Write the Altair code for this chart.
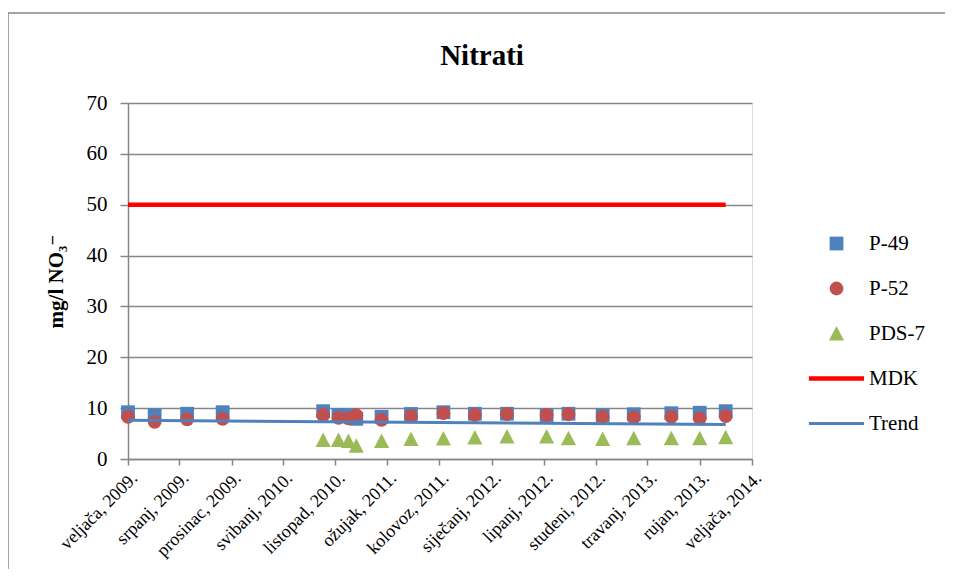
import altair as alt
import pandas as pd

# ---- data ----
dates = ["2009-02-01", "2009-04-20", "2009-07-24", "2009-11-05",
         "2010-08-26", "2010-10-10", "2010-11-08", "2010-12-01",
         "2011-02-13", "2011-05-10", "2011-08-13", "2011-11-13",
         "2012-02-15", "2012-06-10", "2012-08-13", "2012-11-21",
         "2013-02-20", "2013-06-10", "2013-09-01", "2013-11-16"]
p49 = [9.2, 8.65, 8.9, 9.2, 9.4, 8.65, 8.6, 7.9, 8.3, 8.85,
       9.2, 8.9, 8.9, 8.65, 8.9, 8.6, 8.8, 9.0, 9.1, 9.4]
p52 = [8.3, 7.3, 7.8, 7.9, 8.65, 8.1, 8.0, 8.6, 7.7, 8.45,
       9.0, 8.65, 8.85, 8.65, 8.8, 8.3, 8.2, 8.3, 8.0, 8.45]
pds7_dates = dates[4:]
pds7 = [3.7, 3.7, 3.5, 2.6, 3.5, 3.9, 4.0, 4.2, 4.4, 4.4,
        4.05, 3.9, 4.05, 4.05, 4.05, 4.25]
mdk_dates = ["2009-02-01", "2013-11-16"]
mdk_values = [50, 50]
trend_dates = ["2009-02-01", "2013-11-16"]
trend_values = [7.6, 6.8]

tick_months = [(2009, 2), (2009, 7), (2009, 12), (2010, 5), (2010, 10),
               (2011, 3), (2011, 8), (2012, 1), (2012, 6), (2012, 11),
               (2013, 4), (2013, 9), (2014, 2)]
months_hr = ["siječanj", "veljača", "ožujak", "travanj", "svibanj", "lipanj",
             "srpanj", "kolovoz", "rujan", "listopad", "studeni", "prosinac"]

title_text = "Nitrati"
series_all = ["P-49", "P-52", "PDS-7", "MDK", "Trend"]
colors_all = ["#4F81BD", "#C0504D", "#9BBB59", "#FF0000", "#4F81BD"]
shapes_all = ["square", "circle", "M0,-1.1L1.1,1L-1.1,1Z",
              "M-4,-0.33H4V0.33H-4Z", "M-4,-0.22H4V0.22H-4Z"]
line_series = ["MDK", "Trend"]
line_widths = [4.5, 3]

# ---- tables ----
rows = []
for d, v in zip(dates, p49):
    rows.append({"date": d, "value": v, "series": "P-49"})
for d, v in zip(dates, p52):
    rows.append({"date": d, "value": v, "series": "P-52"})
for d, v in zip(pds7_dates, pds7):
    rows.append({"date": d, "value": v, "series": "PDS-7"})
points = pd.DataFrame(rows)

lrows = []
for d, v in zip(mdk_dates, mdk_values):
    lrows.append({"date": d, "value": v, "series": "MDK"})
for d, v in zip(trend_dates, trend_values):
    lrows.append({"date": d, "value": v, "series": "Trend"})
lines = pd.DataFrame(lrows)

FONT = "Liberation Serif, Times New Roman, DejaVu Serif, serif"
GRAY = "#868686"
W, H = 624, 356
PAD_R = 193

month_arr = "[" + ",".join("'" + m + "'" for m in months_hr) + "]"
label_expr = month_arr + "[utcmonth(datum.value)] + ', ' + utcyear(datum.value) + '.'"

xscale = alt.Scale(type="utc", domain=[
    alt.DateTime(year=2009, month=2, date=1, utc=True),
    alt.DateTime(year=2014, month=2, date=1, utc=True)])

xaxis = alt.Axis(
    values=[alt.DateTime(year=y, month=m, date=1, utc=True) for y, m in tick_months],
    labelExpr=label_expr, labelAngle=-45, labelAlign="right", labelBaseline="top",
    labelFont=FONT, labelFontSize=18, labelColor="black", labelPadding=4,
    labelOverlap=False, labelBound=False, labelFlush=False,
    tickColor=GRAY, tickSize=6, tickWidth=1.5, domainColor=GRAY, domainWidth=1.5,
    grid=False, title=None)

yaxis = alt.Axis(
    values=list(range(0, 71, 10)), title="mg/l NO₃⁻",
    titleFont=FONT, titleFontSize=21, titleFontWeight="bold", titleColor="black",
    titlePadding=20,
    labelFont=FONT, labelFontSize=21, labelColor="black", labelPadding=13,
    tickSize=8, tickColor=GRAY, tickWidth=1.5, domainColor=GRAY, domainWidth=1.5,
    grid=True, gridColor=GRAY, gridWidth=1.5)

leg = alt.Legend(title=None, orient="none", legendX=698, legendY=130,
                 labelFont=FONT, labelFontSize=21, labelColor="black",
                 labelOffset=22, rowPadding=23, padding=0, symbolSize=190,
                 symbolStrokeWidth=0, symbolOpacity=1)

color_scale = alt.Scale(domain=series_all, range=colors_all)

frame = alt.Chart(alt.Data(values=[{}])).mark_rect(
    fillOpacity=0, stroke=GRAY, strokeWidth=1.5).encode(
    x=alt.value(-120), x2=alt.value(W + PAD_R + 40),
    y=alt.value(-90), y2=alt.value(H + 160))

title = alt.Chart(alt.Data(values=[{"t": title_text}])).mark_text(
    font=FONT, fontSize=29, fontWeight="bold", color="black", align="center",
    baseline="alphabetic").encode(text="t:N", x=alt.value(354), y=alt.value(-38))

pts = alt.Chart(points).mark_point(filled=True, opacity=1, size=190, strokeWidth=0).encode(
    x=alt.X("date:T", scale=xscale, axis=xaxis),
    y=alt.Y("value:Q", scale=alt.Scale(domain=[0, 70]), axis=yaxis),
    color=alt.Color("series:N", scale=color_scale, legend=leg),
    shape=alt.Shape("series:N", scale=alt.Scale(domain=series_all, range=shapes_all), legend=leg),
)

lns = alt.Chart(lines).mark_line().encode(
    x=alt.X("date:T"),
    y=alt.Y("value:Q"),
    color=alt.Color("series:N", scale=color_scale, legend=leg),
    strokeWidth=alt.StrokeWidth("series:N", scale=alt.Scale(domain=line_series, range=line_widths), legend=None),
)

chart = alt.layer(frame, title, pts, lns).properties(
    width=W, height=H,
    autosize=alt.AutoSizeParams(type="none"),
    padding={"left": 120, "top": 95, "right": PAD_R, "bottom": 110},
).configure_view(stroke=None).configure(background="white")

chart.save("out.html", embed_options={"renderer": "svg", "actions": False})
